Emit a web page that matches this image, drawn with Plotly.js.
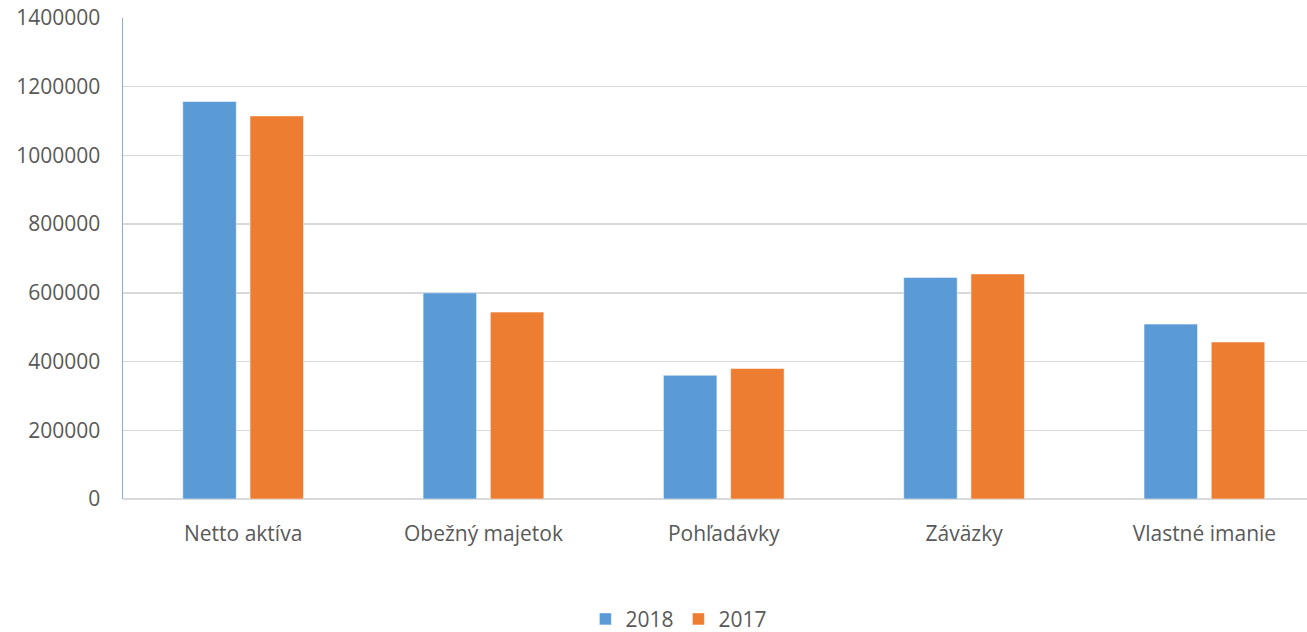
<!DOCTYPE html>
<html>
<head>
<meta charset="utf-8">
<script src="https://cdn.plot.ly/plotly-3.0.1.min.js"></script>
<style>html,body{margin:0;padding:0;background:#fff;}#chart{width:1307px;height:632px;}</style>
</head>
<body>
<div id="chart"></div>
<script>
const categories = ["Netto aktíva", "Obežný majetok", "Pohľadávky", "Záväzky", "Vlastné imanie"];
const values2018 = [1157000, 600000, 360000, 645000, 509000];
const values2017 = [1115000, 544000, 380000, 655000, 457000];
const yTicks = [0, 200000, 400000, 600000, 800000, 1000000, 1200000, 1400000];

const fontFam = '"Open Sans", "Liberation Sans", sans-serif';

const traces = [
  {type: 'bar', name: '2018', x: categories, y: values2018, width: 0.2226, offset: -0.2512,
   marker: {color: '#5B9BD5', line: {color: 'rgba(255,255,255,0.5)', width: 1}}, hoverinfo: 'y'},
  {type: 'bar', name: '2017', x: categories, y: values2017, width: 0.2226, offset: 0.0286,
   marker: {color: '#ED7D31', line: {color: 'rgba(255,255,255,0.5)', width: 1}}, hoverinfo: 'y'}
];

const layout = {
  width: 1307, height: 632,
  margin: {l: 123, r: 0, t: 18, b: 133, pad: 0, autoexpand: false},
  paper_bgcolor: '#fff', plot_bgcolor: '#fff',
  barmode: 'group',
  font: {family: fontFam, color: '#595959', size: 21},
  xaxis: {
    type: 'category', range: [-0.5, 4.427], showgrid: false, automargin: false,
    showline: false, zeroline: false, ticks: '', fixedrange: true,
    tickfont: {family: fontFam, size: 21, color: '#595959'},
    ticklabelstandoff: 20
  },
  yaxis: {
    range: [0, 1400000], tickvals: yTicks, ticktext: yTicks.map(String), automargin: false,
    showgrid: true, gridcolor: '#D9D9D9', gridwidth: 1.5,
    zeroline: true, zerolinecolor: '#D9D9D9', zerolinewidth: 1.5,
    showline: true, linecolor: '#8FAADC', linewidth: 1.5,
    ticks: '', ticklabelstandoff: 17,
    tickfont: {family: fontFam, size: 21, color: '#595959'}
  },
  showlegend: true,
  legend: {orientation: 'h', x: 0.4695, xanchor: 'center', y: -0.25, yanchor: 'middle',
           font: {family: fontFam, size: 21, color: '#595959'}, itemwidth: 30, traceorder: 'normal'}
};

Plotly.newPlot('chart', traces, layout, {displayModeBar: false, staticPlot: true});
</script>
</body>
</html>
